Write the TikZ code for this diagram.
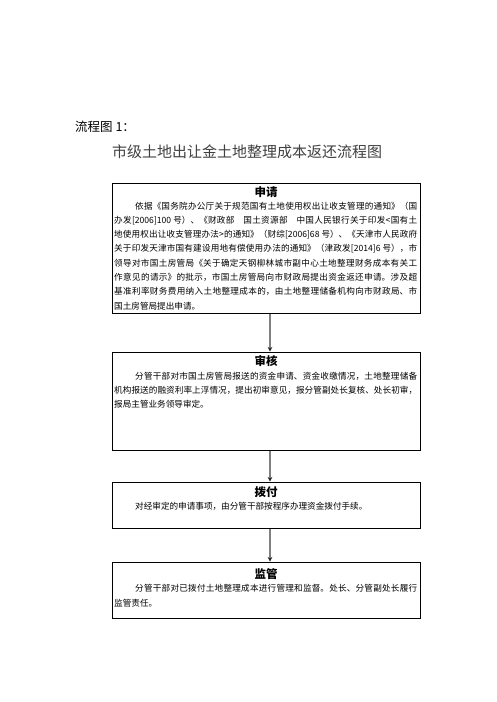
\documentclass[tikz,border=0pt]{standalone}
\usepackage{fontspec}
\setmainfont{Noto Sans CJK SC}
\usetikzlibrary{arrows.meta}
\XeTeXlinebreaklocale "zh"
\XeTeXlinebreakskip=0pt plus 2pt minus 0.6pt
\tolerance=9999
\tikzset{
  box/.style={draw=black, line width=1pt, inner sep=0pt, fill=none},
  ttl/.style={font=\fontsize{11.5}{13}\selectfont\bfseries, inner sep=0pt},
  body/.style={anchor=north west, text width=303pt, align=justify, inner sep=0pt,
    font=\fontsize{8.6}{14.3}\selectfont},
  arr/.style={draw=black!50, line width=1.4pt,
    -{Stealth[length=4.5pt,width=4.5pt,color=black!85]}},
}
\begin{document}
\begin{tikzpicture}[x=1pt,y=-1pt]
\useasboundingbox[fill=white] (0,0) rectangle (496,702);
\node[anchor=west, inner sep=0pt, font=\fontsize{12.5}{14}\selectfont] (head) at (75,127) {流程图 1：};
\node[anchor=west, inner sep=0pt, text=black!75, font=\fontsize{15}{17}\selectfont] (sub) at (112,152) {市级土地出让金土地整理成本返还流程图};

\node[box, minimum width=308pt, minimum height=130pt] (b1) at (266,248) {};
\node[box, minimum width=308pt, minimum height=98pt] (b2) at (266,401) {};
\node[box, minimum width=308pt, minimum height=46pt] (b3) at (266,505) {};
\node[box, minimum width=308pt, minimum height=56pt] (b4) at (266,590) {};

\node[ttl] (t1) at (266,192) {申请};
\node[body] (p1) at (114,201.5) {\hspace*{21pt}依据《国务院办公厅关于规范国有土地使用权出让收支管理的通知》（国\linebreak
办发[2006]100 号）、《财政部　国土资源部　中国人民银行关于印发<国有土\linebreak
地使用权出让收支管理办法>的通知》（财综[2006]68 号）、《天津市人民政府\linebreak
关于印发天津市国有建设用地有偿使用办法的通知》（津政发[2014]6 号），市\linebreak
领导对市国土房管局《关于确定天钢柳林城市副中心土地整理财务成本有关工\linebreak
作意见的请示》的批示，市国土房管局向市财政局提出资金返还申请。涉及超\linebreak
基准利率财务费用纳入土地整理成本的，由土地整理储备机构向市财政局、市\linebreak
国土房管局提出申请。};

\node[ttl] (t2) at (266,361) {审核};
\node[body] (p2) at (114,371.5) {\hspace*{21pt}分管干部对市国土房管局报送的资金申请、资金收缴情况，土地整理储备\linebreak
机构报送的融资利率上浮情况，提出初审意见，报分管副处长复核、处长初审，\linebreak
报局主管业务领导审定。};

\node[ttl] (t3) at (266,492) {拨付};
\node[body] (p3) at (114,501.5) {\hspace*{21pt}对经审定的申请事项，由分管干部按程序办理资金拨付手续。};

\node[ttl] (t4) at (266,574) {监管};
\node[body] (p4) at (114,584.5) {\hspace*{21pt}分管干部对已拨付土地整理成本进行管理和监督。处长、分管副处长履行\linebreak
监管责任。};

\draw[arr] ([xshift=4pt]b1.south) -- ([xshift=4pt]b2.north);
\draw[arr] ([xshift=4pt]b2.south) -- ([xshift=4pt]b3.north);
\draw[arr] ([xshift=4pt]b3.south) -- ([xshift=4pt]b4.north);
\end{tikzpicture}
\end{document}
